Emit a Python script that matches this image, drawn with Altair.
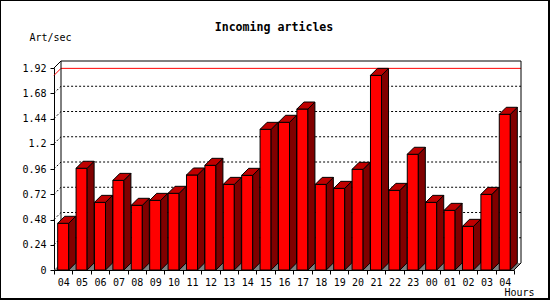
import altair as alt
import pandas as pd

# ---- data ----
hours = ["04", "05", "06", "07", "08", "09", "10", "11", "12", "13", "14", "15", "16",
         "17", "18", "19", "20", "21", "22", "23", "00", "01", "02", "03", "04"]
rate = [0.444, 0.967, 0.643, 0.852, 0.615, 0.662, 0.729, 0.903, 0.995, 0.814, 0.900, 1.337,
        1.404, 1.530, 0.814, 0.776, 0.957, 1.850, 0.757, 1.100, 0.643, 0.567, 0.415, 0.719, 1.480]
y_ticks = [0, 0.24, 0.48, 0.72, 0.96, 1.2, 1.44, 1.68, 1.92]
chart_title = "Incoming articles"
y_title = "Art/sec"
x_title = "Hours"

# ---- layout / style ----
W, H = 460, 202
N = len(hours)
YMAX = y_ticks[-1]
DEPTH = 7                      # 3D depth in pixels
DX = DEPTH * N / W             # depth in x data units
DY = DEPTH * YMAX / H          # depth in y data units
BL, BR = 0.2, 0.8              # bar front edges within a slot
FONT = "DejaVu Sans Mono"

xsc = alt.Scale(domain=[0, N], nice=False, zero=False)
ysc = alt.Scale(domain=[0, YMAX], nice=False, zero=False)

# ---- derived tables ----
front = pd.DataFrame({"idx": list(range(N)), "val": rate})
front["a0"] = front["idx"] + BL
front["a1"] = front["idx"] + BR

side_rows, top_rows = [], []
for i, v in enumerate(rate):
    side_rows += [dict(bar=i, seq=0, px=i + BR, lo=0.0, hi=v),
                  dict(bar=i, seq=1, px=i + BR + DX, lo=DY, hi=v + DY)]
    top_rows += [dict(bar=i, seq=0, py=v, l=i + BL, r=i + BR),
                 dict(bar=i, seq=1, py=v + DY, l=i + BL + DX, r=i + BR + DX)]
side = pd.DataFrame(side_rows)
top = pd.DataFrame(top_rows)

grid_rows = []
for t in y_ticks[1:-1]:
    grid_rows += [dict(lvl=t, seq=0, px=0.0, py=t), dict(lvl=t, seq=1, px=DX, py=t + DY),
                  dict(lvl=t, seq=2, px=N + DX, py=t + DY)]
grid = pd.DataFrame(grid_rows)

m = max(rate)
peak = pd.DataFrame([dict(seq=0, px=0.0, py=m), dict(seq=1, px=DX, py=m + DY),
                     dict(seq=2, px=N + DX, py=m + DY)])

edges = pd.DataFrame([
    dict(p1=DX, p2=N + DX, q1=YMAX + DY, q2=YMAX + DY),
    dict(p1=DX, p2=DX, q1=DY, q2=YMAX + DY),
    dict(p1=N + DX, p2=N + DX, q1=DY, q2=YMAX + DY),
    dict(p1=0.0, p2=DX, q1=YMAX, q2=YMAX + DY),
    dict(p1=float(N), p2=N + DX, q1=0.0, q2=DY),
])
floor = pd.DataFrame([dict(seq=0, py=0.0, l=0.0, r=float(N)),
                      dict(seq=1, py=DY, l=DX, r=N + DX)])

label_js = "[" + ",".join(f"'{h}'" for h in hours) + "]"

xaxis = alt.Axis(
    values=list(range(N + 1)),
    labelExpr=f"datum.value < {N} ? {label_js}[datum.value] : ''",
    labelOffset=W / N / 2, labelFlush=False, labelOverlap=False, labelPadding=3,
    labelFont=FONT, labelFontSize=10, labelColor="black",
    tickSize=4, grid=False, domainColor="black", tickColor="black",
    title=x_title, titleFont=FONT, titleFontSize=10, titleFontWeight="normal",
    titleColor="black", titleX=480, titleY=22, titleAlign="right",
    titleBaseline="middle",
)
yaxis = alt.Axis(
    values=y_ticks, format=".3~g", tickSize=4, labelPadding=4, grid=False,
    labelFont=FONT, labelFontSize=10, labelColor="black", labelOverlap=False,
    domainColor="black", tickColor="black",
    title=y_title, titleFont=FONT, titleFontSize=10, titleFontWeight="normal",
    titleColor="black", titleAngle=0, titleX=-4, titleY=-31, titleAlign="center",
    titleBaseline="middle",
)


def X(field):
    return alt.X(field, scale=xsc, axis=xaxis, stack=None)


def Y(field):
    return alt.Y(field, scale=ysc, axis=yaxis, stack=None)


floor_l = alt.Chart(floor).mark_area(orient="horizontal", fill="#808080").encode(
    y=Y("py:Q"), x=X("l:Q"), x2="r:Q",
)

grid_l = alt.Chart(grid).mark_line(color="black", strokeWidth=1, strokeDash=[2, 2]).encode(
    x=X("px:Q"), y=Y("py:Q"), detail="lvl:N",
)

peak_l = alt.Chart(peak).mark_line(color="#ff0000", strokeWidth=1).encode(
    x=X("px:Q"), y=Y("py:Q"),
)

edge_l = alt.Chart(edges).mark_rule(color="black", strokeWidth=1).encode(
    x=X("p1:Q"), x2="p2:Q", y=Y("q1:Q"), y2="q2:Q",
)

front_l = alt.Chart(front).mark_rect(fill="#ff0000", stroke="black", strokeWidth=1).encode(
    x=X("a0:Q"), x2="a1:Q", y=Y("val:Q"), y2=alt.datum(0),
)

side_l = alt.Chart(side).mark_area(fill="#800000", stroke="black", strokeWidth=1,
                                   orient="vertical").encode(
    x=X("px:Q"), y=Y("lo:Q"), y2="hi:Q", detail="bar:N",
)

top_l = alt.Chart(top).mark_area(orient="horizontal", fill="#c00000", stroke="black",
                                 strokeWidth=1).encode(
    y=Y("py:Q"), x=X("l:Q"), x2="r:Q", detail="bar:N",
)

border_l = alt.Chart(pd.DataFrame({"z": [0]})).mark_rect(
    fillOpacity=0, stroke="black", strokeWidth=2).encode(
    x=alt.value(-54), x2=alt.value(495), y=alt.value(-68), y2=alt.value(231),
)

chart = alt.layer(
    floor_l, grid_l, peak_l, edge_l, front_l, side_l, top_l, border_l
).properties(
    width=W, height=H,
    padding={"left": 54, "top": 68, "right": 36, "bottom": 30},
    autosize=alt.AutoSizeParams(type="none"),
    title=alt.Title(chart_title, font=FONT, fontSize=11.6, fontWeight="bold",
                    color="black", anchor="middle", dx=-10, offset=0,
                    baseline="middle", dy=41),
).configure_view(strokeWidth=0)

chart.save("out.html", embed_options={"renderer": "svg", "actions": False})
